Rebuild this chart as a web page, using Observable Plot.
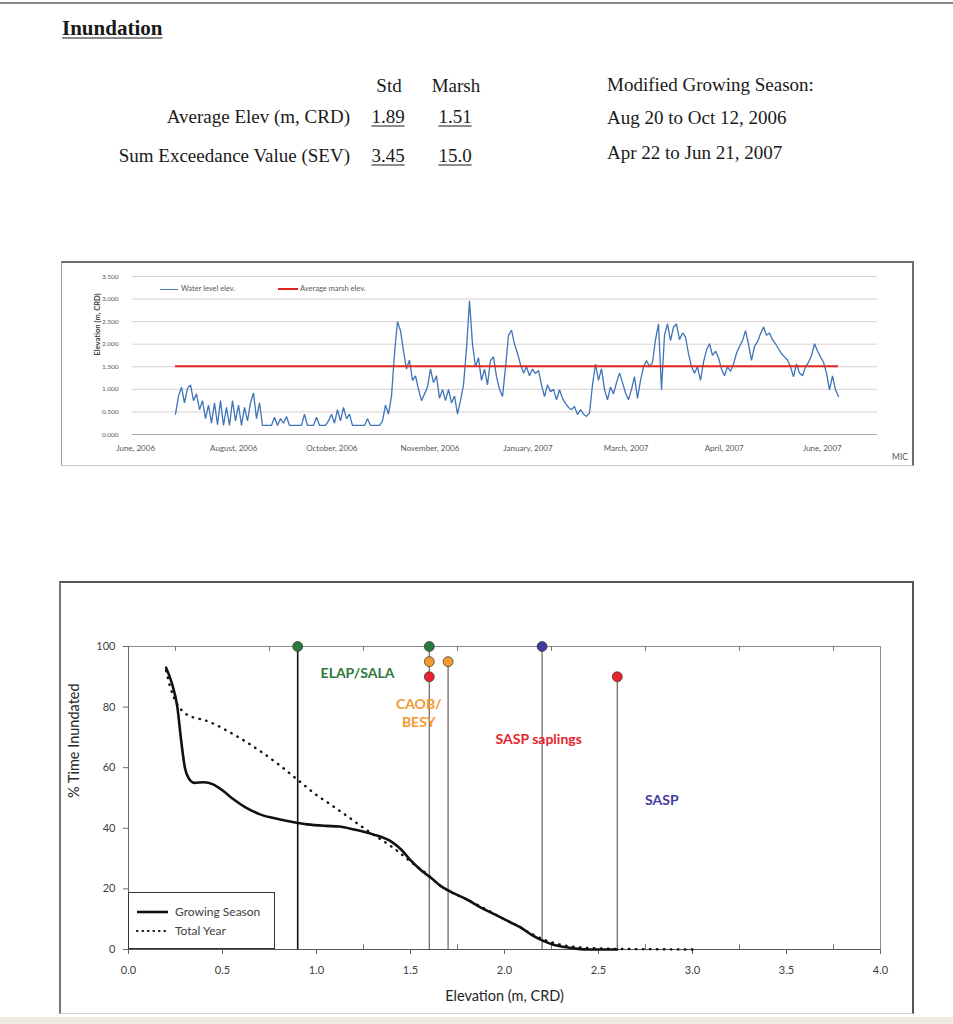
<!DOCTYPE html>
<html><head><meta charset="utf-8">
<script src="https://cdn.jsdelivr.net/npm/d3@7"></script>
<script src="https://cdn.jsdelivr.net/npm/@observablehq/plot@0.6"></script>
<style>
html,body{margin:0;padding:0;background:#fff;}
body{width:953px;height:1024px;position:relative;overflow:hidden;}
.abs{position:absolute;white-space:nowrap;line-height:1;}
.serif{font-family:"Liberation Serif","DejaVu Serif",serif;font-size:19px;color:#1a1a1a;}
.l{transform:translate(0,-50%);} .r{transform:translate(-100%,-50%);} .c{transform:translate(-50%,-50%);}
.u{text-decoration:underline;text-underline-offset:3px;text-decoration-thickness:1px;}
.lato{font-family:Lato,"Open Sans",sans-serif;}
</style></head>
<body>
<script>
// ---------- header table ----------
const headerTitle = "Inundation";
const tableColumns = ["Std", "Marsh"];
const tableRows = ["Average Elev (m, CRD)", "Sum Exceedance Value (SEV)"];
const tableValues = [["1.89", "1.51"], ["3.45", "15.0"]];
const seasonLines = ["Modified Growing Season:", "Aug 20 to Oct 12, 2006", "Apr 22 to Jun 21, 2007"];

// ---------- chart 1 : water level time series ----------
const waterLevel = [
 0.45,0.85,1.05,0.7,1.02,1.1,0.75,0.9,0.55,0.75,0.35,0.65,0.25,0.7,0.22,0.75,0.2,0.6,0.2,0.75,0.3,0.65,0.2,0.6,0.3,0.7,0.92,0.35,0.7,
 0.2,0.2,0.2,0.2,0.38,0.2,0.35,0.25,0.4,0.2,0.2,0.2,0.2,0.2,0.45,0.2,0.2,0.2,0.38,0.2,0.2,0.2,0.3,0.45,0.25,0.55,0.3,0.6,0.35,0.45,0.2,0.2,0.2,0.2,0.2,0.35,0.2,0.2,0.2,0.2,0.3,0.65,0.45,
 0.85,1.8,2.5,2.3,1.85,1.45,1.65,1.2,1.3,1.0,
 0.75,0.9,1.05,1.45,1.15,1.3,0.8,1.0,0.75,1.0,
 0.7,0.85,0.45,0.75,1.1,1.9,2.96,2.0,1.5,1.7,
 1.2,1.45,1.1,1.64,1.72,1.28,1.0,0.84,1.48,2.2,
 2.31,2.0,1.8,1.55,1.36,1.5,1.3,1.45,1.35,1.42,
 1.1,0.84,1.1,0.95,1.0,0.77,0.99,0.8,0.69,0.6,
 0.55,0.62,0.44,0.55,0.45,0.4,0.48,1.1,1.56,1.2,
 1.46,1.0,0.77,1.05,0.9,1.15,1.36,1.15,0.92,0.77,
 1.0,1.28,0.8,1.2,1.5,1.64,1.5,1.6,2.1,2.45,
 0.99,2.2,2.45,2.08,2.38,2.45,2.1,2.25,2.16,1.79,
 1.5,1.36,1.5,1.2,1.6,1.87,2.01,1.75,1.85,1.7,
 1.45,1.3,1.5,1.4,1.56,1.8,1.95,2.08,2.3,2.0,
 1.64,1.95,2.05,2.23,2.38,2.2,2.25,2.1,2.01,1.9,
 1.79,1.72,1.65,1.5,1.28,1.56,1.36,1.3,1.5,1.6,
 1.75,2.01,1.85,1.72,1.6,1.36,0.99,1.3,0.99,0.84
];
const avgMarshElev = 1.51;
const tsTickPos = [-13.3, 19.4, 52.1, 84.8, 117.5, 150.2, 182.9, 215.6];
const tsTickLabels = ["June, 2006","August, 2006","October, 2006","November, 2006","January, 2007","March, 2007","April, 2007","June, 2007"];
const tsYTicks = [0, 0.5, 1, 1.5, 2, 2.5, 3, 3.5];
const tsLegend = ["Water level elev.", "Average marsh elev."];

// ---------- chart 2 : inundation curves ----------
const growingElev = [0.20,0.23,0.26,0.28,0.30,0.32,0.35,0.40,0.45,0.50,0.56,0.62,0.70,0.80,0.88,0.95,1.05,1.12,1.20,1.30,1.40,1.45,1.50,1.55,1.61,1.66,1.70,1.80,1.87,1.95,2.03,2.08,2.14,2.20,2.26,2.32,2.39,2.45,2.60];
const growingPct  = [93,88,80,69,60,56.5,55,55.2,54.5,52.5,49.5,47,44.6,43,42,41.3,40.8,40.6,39.6,38,35.5,33,29.5,26.5,23.6,21,19.5,16.5,14,11.5,9,7.5,5,3,1.6,0.8,0.2,0,0];
const totalElev = [0.20,0.22,0.25,0.30,0.35,0.40,0.47,0.53,0.60,0.70,0.80,0.90,1.00,1.06,1.15,1.22,1.30,1.41,1.50,1.59,1.66,1.72,1.80,1.90,2.00,2.08,2.14,2.20,2.26,2.32,2.40,2.50,2.60,2.80,3.00];
const totalPct  = [92,87,82,78,76.5,75.8,74,72,69.5,65.5,61,56,51,48.5,44.6,41.5,38,33.5,29,24.8,21,18.8,16.5,13.3,10,7.5,5.3,3.5,2.2,1.3,0.7,0.4,0.2,0.1,0];
const thresholdElev = [0.9, 1.6, 1.7, 2.2, 2.6];
const thresholdTop  = [100, 100, 95, 100, 90];
const markerElev  = [0.9, 1.6, 1.6, 1.7, 1.6, 2.6, 2.2];
const markerPct   = [100, 100, 95, 95, 90, 90, 100];
const markerGroup = ["ELAP/SALA","ELAP/SALA","CAOB/BESY","CAOB/BESY","SASP saplings","SASP saplings","SASP"];
const groupNames  = ["ELAP/SALA","CAOB/BESY","SASP saplings","SASP"];
const groupColors = ["#2b7a3b","#f39a2e","#e8232b","#3f3b9e"];
const groupLabelText = ["ELAP/SALA","CAOB/\nBESY","SASP saplings","SASP"];
const groupLabelElev = [1.218, 1.544, 2.182, 2.837];
const groupLabelPct  = [91.4, 78.4, 69.9, 49.7];
const groupLabelAnchor = ["middle","start","middle","middle"];
const inXTicks = [0,0.5,1,1.5,2,2.5,3,3.5,4];
const inXMinor = [0.25,0.75,1.25,1.75,2.25,2.75,3.25,3.75];
const inYTicks = [0,20,40,60,80,100];
const inLegend = ["Growing Season", "Total Year"];

// ---------- helpers ----------
function addDiv(cls, text, x, y, extra) {
  const d = document.createElement("div");
  d.className = "abs " + cls;
  d.textContent = text;
  d.style.left = x + "px"; d.style.top = y + "px";
  if (extra) Object.assign(d.style, extra);
  document.body.appendChild(d);
  return d;
}
function addBox(x, y, w, h, style) {
  const d = document.createElement("div");
  d.style.position = "absolute";
  d.style.left = x + "px"; d.style.top = y + "px";
  d.style.width = w + "px"; d.style.height = h + "px";
  d.style.boxSizing = "border-box";
  Object.assign(d.style, style);
  document.body.appendChild(d);
  return d;
}

// page lines
addBox(0, 2, 953, 2, {background: "#8a8a8a"});
addBox(0, 1017, 953, 7, {background: "#efebdf"});

// header
addDiv("serif l u", headerTitle, 62, 28, {fontWeight: "bold", fontSize: "21px"});
const colX = [389, 456];
tableColumns.forEach((c, i) => addDiv("serif c", c, colX[i], 85));
const rowY = [116, 155];
tableRows.forEach((r, i) => {
  addDiv("serif r", r, 350, rowY[i]);
  tableValues[i].forEach((v, j) => addDiv("serif c u", v, colX[j] - 1, rowY[i]));
});
const seasonY = [84, 117, 152];
seasonLines.forEach((s, i) => addDiv("serif l", s, 607, seasonY[i]));

// ---------- chart 1 ----------
addBox(61, 261, 853, 205, {borderTop: "2px solid #6e6e6e", borderRight: "2px solid #6e6e6e", borderLeft: "1.5px solid #9a9a9a", borderBottom: "1.5px solid #c8c8c8"});
const p1 = Plot.plot({
  width: 851, height: 203,
  marginLeft: 70, marginRight: 36, marginTop: 14, marginBottom: 31,
  style: {fontFamily: "Lato", fontSize: "7px", color: "#595959", background: "transparent", overflow: "visible"},
  x: {domain: [-14.333, 234]},
  y: {domain: [0, 3.5]},
  marks: [
    Plot.ruleY(tsYTicks, {stroke: "#dccfcf", strokeWidth: 1}),
    Plot.ruleY([0], {stroke: "#a8a8a8", strokeWidth: 1}),
    Plot.axisY(tsYTicks, {tickSize: 0, tickPadding: 14, tickFormat: d3.format(".3f"), fontSize: 6.5, label: null}),
    Plot.axisX(tsTickPos, {tickSize: 0, tickPadding: 11, tickFormat: d => tsTickLabels[tsTickPos.indexOf(d)], fontSize: 8, label: null}),
    Plot.lineY(waterLevel, {x: (d, i) => i, y: d => d, stroke: "#3f74b8", strokeWidth: 1.3, strokeLinejoin: "miter"}),
    Plot.ruleY([avgMarshElev], {x1: 0, x2: waterLevel.length - 1, stroke: "#e3261f", strokeWidth: 2}),
    Plot.text(["Elevation (m, CRD)"], {frameAnchor: "left", dx: -35, rotate: -90, fontWeight: "bold", fontSize: 7.5, fill: "#404040"})
  ]
});
const w1 = document.createElement("div");
Object.assign(w1.style, {position: "absolute", left: "62px", top: "262px"});
w1.appendChild(p1);
document.body.appendChild(w1);
// legend chart 1
addBox(160, 288.5, 18, 1.2, {background: "#4a7ebb"});
addDiv("lato l", tsLegend[0], 181, 289, {fontSize: "7.5px", color: "#595959"});
addBox(278, 288, 20, 2, {background: "#e3261f"});
addDiv("lato l", tsLegend[1], 300, 289, {fontSize: "7.5px", color: "#595959"});
addDiv("lato c", "MIC", 900, 457, {fontSize: "8.5px", color: "#555"});

// ---------- chart 2 ----------
addBox(59, 581, 855, 433, {borderTop: "2px solid #555", borderRight: "2px solid #555", borderLeft: "2px solid #777", borderBottom: "1.5px solid #d0d0d0"});
const growing = growingElev.map((e, i) => ({elev: e, pct: growingPct[i]}));
const total = totalElev.map((e, i) => ({elev: e, pct: totalPct[i]}));
const thresholds = thresholdElev.map((e, i) => ({elev: e, top: thresholdTop[i], first: i === 0}));
const markers = markerElev.map((e, i) => ({elev: e, pct: markerPct[i], group: markerGroup[i]}));
const labels = groupNames.map((g, i) => ({group: g, text: groupLabelText[i], elev: groupLabelElev[i], pct: groupLabelPct[i], anchor: groupLabelAnchor[i]}));

const p2 = Plot.plot({
  width: 853, height: 433,
  marginLeft: 68, marginRight: 33, marginTop: 64, marginBottom: 66,
  style: {fontFamily: "Lato", fontSize: "11px", color: "#404040", background: "transparent", overflow: "visible"},
  x: {domain: [0, 4]},
  y: {domain: [0, 100]},
  color: {domain: groupNames, range: groupColors},
  marks: [
    Plot.frame({stroke: "#8c8c8c"}),
    Plot.ruleX([0], {stroke: "#666"}),
    Plot.ruleY([0], {stroke: "#555"}),
    Plot.axisY(inYTicks, {tickSize: 5, tickPadding: 8, label: null, stroke: "#666"}),
    Plot.axisX(inXTicks, {tickSize: 5, tickPadding: 12, tickFormat: d3.format(".1f"), label: null, stroke: "#666"}),
    Plot.ruleX(inXMinor, {y1: 0, y2: 1.6, stroke: "#777"}),
    Plot.ruleX(inXMinor, {y1: 98.4, y2: 100, stroke: "#777"}),
    Plot.ruleX(thresholds.filter(d => !d.first), {x: "elev", y1: 0, y2: "top", stroke: "#7b6a64", strokeWidth: 1.3}),
    Plot.ruleX(thresholds.filter(d => d.first), {x: "elev", y1: 0, y2: "top", stroke: "#111", strokeWidth: 1.6}),
    Plot.line(total, {x: "elev", y: "pct", curve: "monotone-x", stroke: "#111", strokeWidth: 2.4, strokeDasharray: "0.5,6.5", strokeLinecap: "round"}),
    Plot.line(growing, {x: "elev", y: "pct", curve: "monotone-x", stroke: "#111", strokeWidth: 2.6}),
    Plot.dot(markers, {x: "elev", y: "pct", fill: "group", r: 5, stroke: "#333", strokeWidth: 0.7}),
    Plot.text(labels, {x: "elev", y: "pct", text: "text", fill: "group", textAnchor: d => d.anchor, fontWeight: "bold", fontSize: 14, lineHeight: 1.3}),
    Plot.text(["% Time Inundated"], {frameAnchor: "left", dx: -54, rotate: -90, fontSize: 14.5, fill: "#262626"}),
    Plot.text(["Elevation (m, CRD)"], {frameAnchor: "bottom", dy: 51, fontSize: 14.5, fill: "#262626"})
  ]
});
const w2 = document.createElement("div");
Object.assign(w2.style, {position: "absolute", left: "60px", top: "582px"});
w2.appendChild(p2);
document.body.appendChild(w2);

// legend chart 2
addBox(127.5, 892, 147.5, 57, {border: "1px solid #333", background: "#fff"});
const legSvg = document.createElementNS("http://www.w3.org/2000/svg", "svg");
legSvg.setAttribute("width", "40"); legSvg.setAttribute("height", "40");
Object.assign(legSvg.style, {position: "absolute", left: "134px", top: "902px"});
legSvg.innerHTML = '<line x1="3" x2="34" y1="10" y2="10" stroke="#111" stroke-width="2.6"/>' +
  '<line x1="3" x2="34" y1="29" y2="29" stroke="#111" stroke-width="2.2" stroke-dasharray="0.5,5" stroke-linecap="round"/>';
document.body.appendChild(legSvg);
addDiv("lato l", inLegend[0], 175, 912, {fontSize: "12px", color: "#404040"});
addDiv("lato l", inLegend[1], 175, 931, {fontSize: "12px", color: "#404040"});
</script>
</body></html>
